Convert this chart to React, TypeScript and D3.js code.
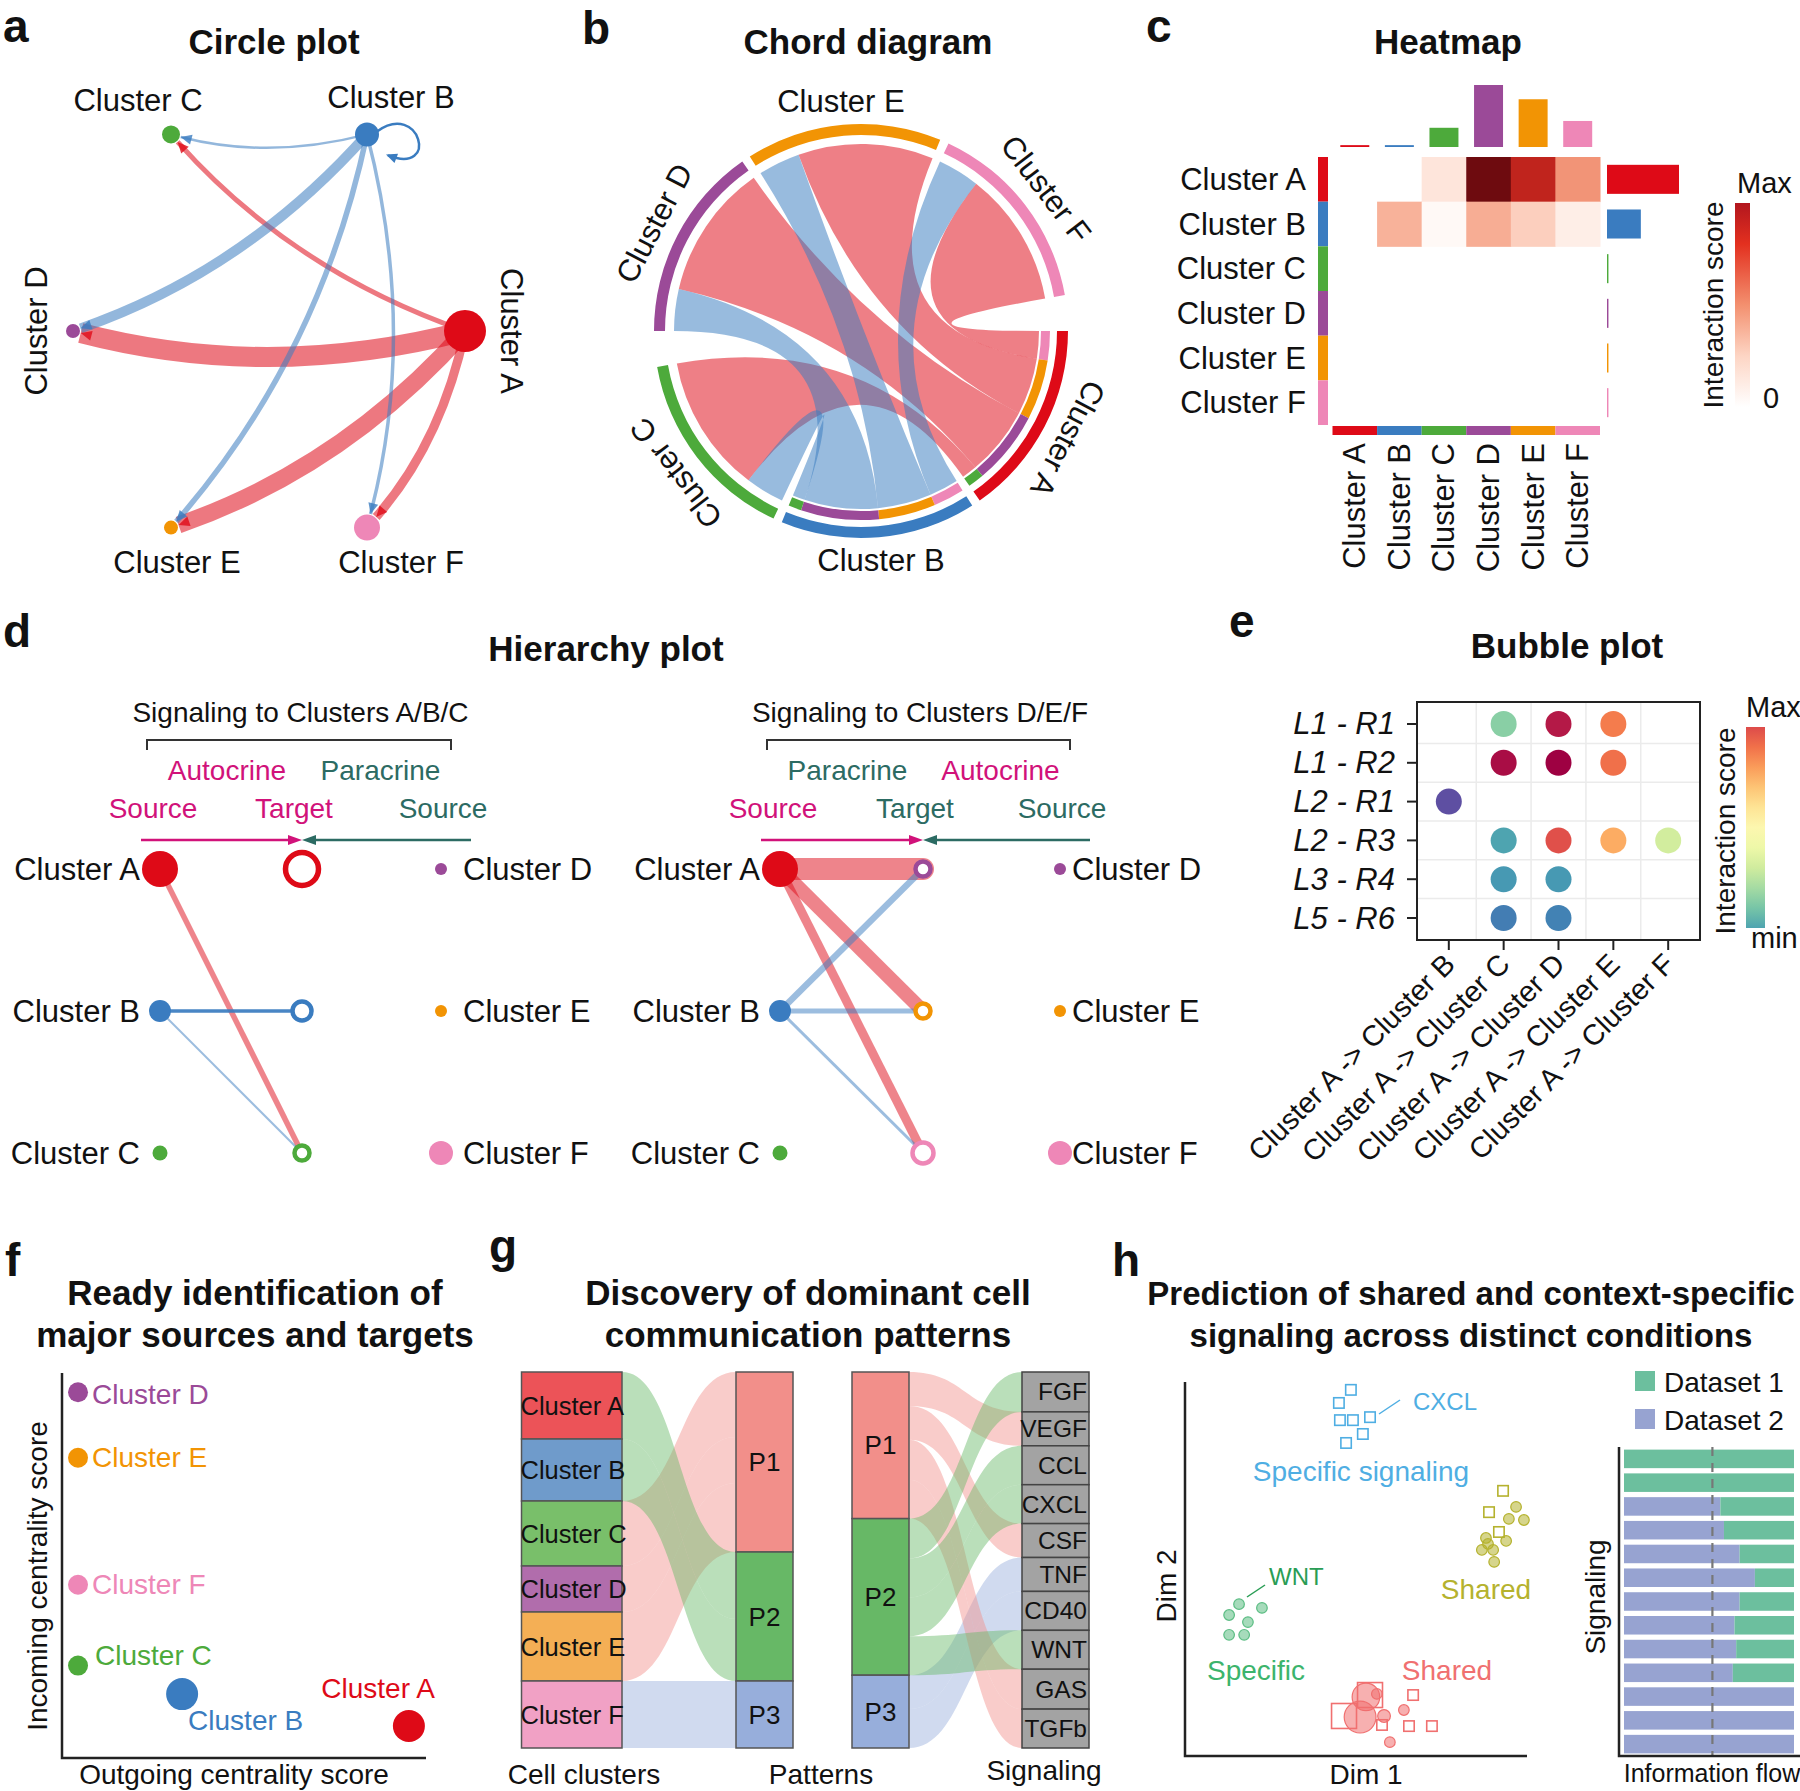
import React from 'react';
import * as d3 from 'd3';

const FONT = "'Liberation Sans', Arial, Helvetica, sans-serif";
const MAGENTA = '#D1127A';
const TEAL = '#2C6B63';

// ---------- shared ----------
const CLUSTERS = ['Cluster A', 'Cluster B', 'Cluster C', 'Cluster D', 'Cluster E', 'Cluster F'];
const CLUSTER_COLORS = ['#DE0A17', '#3A7CC0', '#4DAA3B', '#9B4A98', '#F29404', '#EE87B7'];

// ---------- a: circle plot ----------
const circleNodeSize = [21, 12, 9, 7, 7, 13];
const circleEdges = [
  { source: 0, target: 3, weight: 20 },
  { source: 0, target: 4, weight: 17 },
  { source: 0, target: 5, weight: 9 },
  { source: 0, target: 2, weight: 5 },
  { source: 1, target: 3, weight: 10 },
  { source: 1, target: 4, weight: 5.5 },
  { source: 1, target: 5, weight: 3.5 },
  { source: 1, target: 2, weight: 2.5 },
  { source: 1, target: 1, weight: 2.5 },
];

// ---------- b: chord diagram ----------
const chordOrder = [3, 4, 5, 0, 1, 2];
const chordBigGapAfter = [5, 2];
const chordLinks = [
  { source: 0, target: 5, out: 9, in: 42 },
  { source: 0, target: 4, out: 18.5, in: 42 },
  { source: 0, target: 3, out: 22.5, in: 42 },
  { source: 0, target: 2, out: 5, in: 43 },
  { source: 1, target: 5, out: 9.5, in: 13 },
  { source: 1, target: 4, out: 17.5, in: 13 },
  { source: 1, target: 3, out: 24, in: 13 },
  { source: 1, target: 2, out: 4, in: 12 },
];

// ---------- c: heatmap ----------
const heatValues = [
  [0, 0, 0.12, 1.0, 0.8, 0.46],
  [0, 0.34, 0.03, 0.36, 0.22, 0.08],
  [0, 0, 0, 0, 0, 0],
  [0, 0, 0, 0, 0, 0],
  [0, 0, 0, 0, 0, 0],
  [0, 0, 0, 0, 0, 0],
];
const heatIncoming = [0.03, 0.03, 0.31, 1.0, 0.77, 0.42];
const heatOutgoing = [1.0, 0.47, 0.02, 0.02, 0.02, 0.02];

// ---------- d: hierarchy ----------
const hierNodeSize = [18, 11, 7.5, 6, 6, 12];
const hierEdgesLeft = [
  { source: 0, target: 2, weight: 5.5 },
  { source: 1, target: 1, weight: 3.5 },
  { source: 1, target: 2, weight: 2 },
];
const hierEdgesRight = [
  { source: 0, target: 3, weight: 22 },
  { source: 0, target: 4, weight: 14 },
  { source: 0, target: 5, weight: 9 },
  { source: 1, target: 3, weight: 6.5 },
  { source: 1, target: 4, weight: 5 },
  { source: 1, target: 5, weight: 3 },
];

// ---------- e: bubble plot ----------
const bubbleRows = ['L1 - R1', 'L1 - R2', 'L2 - R1', 'L2 - R3', 'L3 - R4', 'L5 - R6'];
const bubbleCols = ['Cluster A -> Cluster B', 'Cluster A -> Cluster C', 'Cluster A -> Cluster D', 'Cluster A -> Cluster E', 'Cluster A -> Cluster F'];
const bubbleData = [
  { row: 0, col: 1, score: 0.25 }, { row: 0, col: 2, score: 0.96 }, { row: 0, col: 3, score: 0.78 },
  { row: 1, col: 1, score: 0.98 }, { row: 1, col: 2, score: 1.0 }, { row: 1, col: 3, score: 0.8 },
  { row: 2, col: 0, score: 0.0 },
  { row: 3, col: 1, score: 0.15 }, { row: 3, col: 2, score: 0.86 }, { row: 3, col: 3, score: 0.7 }, { row: 3, col: 4, score: 0.37 },
  { row: 4, col: 1, score: 0.13 }, { row: 4, col: 2, score: 0.13 },
  { row: 5, col: 1, score: 0.08 }, { row: 5, col: 2, score: 0.09 },
];

// ---------- f: centrality ----------
const centralityOut = [0.953, 0.33, 0.044, 0.044, 0.044, 0.044];
const centralityIn = [0.083, 0.166, 0.24, 0.95, 0.78, 0.45];
const centralitySize = [16, 16, 10, 10, 10, 10];

// ---------- g: patterns ----------
const clusterWeights = [67, 62, 65, 46, 69, 67];
const clusterPattern = [1, 1, 0, 0, 0, 2];
const PATTERNS = ['P1', 'P2', 'P3'];
const PATTERN_COLORS = ['#F28F8A', '#67B866', '#97AEDB'];
const CLUSTER_LIGHT = ['#EC5358', '#6F9BCB', '#79BF6A', '#B16DAC', '#F4AF55', '#F1A1C5'];
const signalNames = ['FGF', 'VEGF', 'CCL', 'CXCL', 'CSF', 'TNF', 'CD40', 'WNT', 'GAS', 'TGFb'];
const signalWeights = [40, 34, 39, 39, 34, 34, 39, 39, 40, 39];
const signalPattern = [1, 0, 1, 1, 0, 2, 2, 1, 0, 0];

// ---------- h: comparison ----------
const cxclSquares = [[4.85, 9.79], [4.5, 9.44], [4.53, 8.98], [4.91, 8.98], [5.41, 9.06], [5.2, 8.61], [4.71, 8.37]];
const oliveSquares = [[9.3, 7.09], [8.89, 6.52], [9.18, 5.99]];
const oliveCircles = [[9.68, 6.66], [9.47, 6.34], [9.91, 6.31], [8.8, 5.83], [9.39, 5.75], [8.68, 5.51], [9.01, 5.51], [9.04, 5.19], [8.86, 5.67]];
const wntCircles = [[1.58, 4.06], [1.29, 3.77], [2.25, 3.96], [1.84, 3.58], [1.29, 3.24], [1.73, 3.24]];
const redSquares = [[5.41, 1.63, 2.4], [4.65, 1.07, 2.4], [6.67, 1.63, 1], [5.76, 0.83, 1], [6.55, 0.8, 1], [7.22, 0.8, 1]];
const redCircles = [[5.29, 1.58, 2.6], [5.12, 1.04, 3], [5.61, 1.66, 1], [5.82, 1.07, 1.2], [6.4, 1.23, 1], [5.99, 0.37, 1]];
const flowShareDataset2 = [0, 0, 0.567, 0.588, 0.68, 0.77, 0.68, 0.65, 0.66, 0.64, 1, 1, 1];

// ---------- helpers ----------
function arrowHead(tx, ty, ux, uy, len, half) {
  const bx = tx - ux * len, by = ty - uy * len;
  return `M${tx},${ty}L${bx - uy * half},${by + ux * half}L${bx + uy * half},${by - ux * half}Z`;
}

function Title({ x, y, lines, size = 35 }) {
  return (
    <g>
      {lines.map((l, i) => (
        <text key={i} x={x} y={y + i * 42} fontSize={size} fontWeight="bold" textAnchor="middle" fill="#111">{l}</text>
      ))}
    </g>
  );
}

// ---------- panel a ----------
function PanelA() {
  const cx = 269, cy = 331, rx = 196, ry = 227;
  const ang = d3.scaleLinear().domain([0, CLUSTERS.length]).range([0, -2 * Math.PI]);
  const nodes = CLUSTERS.map((name, i) => {
    const a = ang(i);
    return { name, i, a, x: cx + rx * Math.cos(a), y: cy + ry * Math.sin(a), r: circleNodeSize[i] };
  });
  const wScale = d3.scaleLinear().domain([0, 20]).range([0, 20]);
  const ordered = [...circleEdges].sort((a, b) => a.source - b.source);
  const edgeEls = [];
  const arrowEls = [];
  ordered.forEach((e, k) => {
    const s = nodes[e.source], t = nodes[e.target];
    const color = CLUSTER_COLORS[e.source];
    const w = wScale(e.weight);
    if (e.source === e.target) {
      const p = d3.path();
      p.moveTo(s.x + 10, s.y - 3);
      p.bezierCurveTo(s.x + 53, s.y - 34, s.x + 73, s.y + 41, s.x + 21, s.y + 21);
      edgeEls.push(<path key={'l' + k} d={p.toString()} fill="none" stroke={color} strokeWidth={w} />);
      const ux0 = -52, uy0 = -20, L = Math.hypot(ux0, uy0);
      arrowEls.push(<path key={'la' + k} d={arrowHead(s.x + 19, s.y + 20, ux0 / L, uy0 / L, 11, 5)} fill={color} />);
      return;
    }
    const dx = t.x - s.x, dy = t.y - s.y;
    const kc = 0.13;
    const c = { x: (s.x + t.x) / 2 + kc * dy, y: (s.y + t.y) / 2 - kc * dx };
    let ux = t.x - c.x, uy = t.y - c.y;
    const ul = Math.hypot(ux, uy); ux /= ul; uy /= ul;
    const ex = t.x - ux * (t.r + 1), ey = t.y - uy * (t.r + 1);
    const p = d3.path();
    p.moveTo(s.x, s.y);
    p.quadraticCurveTo(c.x, c.y, ex, ey);
    edgeEls.push(<path key={'e' + k} d={p.toString()} fill="none" stroke={color} strokeOpacity={0.55} strokeWidth={w} />);
    arrowEls.push(<path key={'a' + k} d={arrowHead(ex, ey, ux, uy, 11, 5)} fill={color} fillOpacity={0.8} />);
  });
  const labels = nodes.map((n) => {
    const cs = Math.cos(n.a), sn = Math.sin(n.a);
    if (Math.abs(sn) < 0.1) {
      const lx = cs < 0 ? n.x - n.r - 30 : n.x + n.r + 25;
      const rot = cs < 0 ? -90 : 90;
      return <text key={n.name} x={lx} y={n.y} fontSize={31} textAnchor="middle" dominantBaseline="central" transform={`rotate(${rot},${lx},${n.y})`}>{n.name}</text>;
    }
    if (sn < 0) {
      return <text key={n.name} x={n.x - 4.5 + cs * 57} y={n.y - n.r - 14} fontSize={31} textAnchor="middle">{n.name}</text>;
    }
    return <text key={n.name} x={n.x + 20 + cs * 28} y={n.y + 45} fontSize={31} textAnchor="middle">{n.name}</text>;
  });
  return (
    <g>
      <Title x={274} y={54} lines={['Circle plot']} />
      {edgeEls}
      {arrowEls}
      {nodes.map((n) => <circle key={n.name} cx={n.x} cy={n.y} r={n.r} fill={CLUSTER_COLORS[n.i]} />)}
      {labels}
    </g>
  );
}

// ---------- panel b ----------
function PanelB() {
  const cx = 861, cy = 331;
  const rad = (d) => (d * Math.PI) / 180;
  const outV = CLUSTERS.map((_, i) => d3.sum(chordLinks.filter((l) => l.source === i), (l) => l.out));
  const inV = CLUSTERS.map((_, i) => d3.sum(chordLinks.filter((l) => l.target === i), (l) => l.in));
  const size = CLUSTERS.map((_, i) => outV[i] + inV[i]);
  const gapOf = (c) => (chordBigGapAfter.includes(c) ? 10 : 2.5);
  const totalGap = d3.sum(chordOrder, gapOf);
  const k = (360 - totalGap) / d3.sum(chordOrder, (c) => size[c]);
  const sectors = {};
  let a = 270;
  chordOrder.forEach((c) => {
    sectors[c] = { start: a, end: a + size[c] * k };
    a = sectors[c].end + gapOf(c);
  });
  const srcSeg = new Map();
  const tgtSeg = new Map();
  chordOrder.forEach((c) => {
    let p = sectors[c].start;
    chordLinks.filter((l) => l.source === c).sort((x, y) => y.target - x.target).forEach((l) => {
      srcSeg.set(l, [p, p + l.out * k]); p += l.out * k;
    });
    chordLinks.filter((l) => l.target === c).sort((x, y) => y.source - x.source).forEach((l) => {
      tgtSeg.set(l, [p, p + l.in * k]); p += l.in * k;
    });
  });
  const ribbon = d3.ribbon().radius((d) => d.radius);
  const arc = d3.arc();
  const links = [...chordLinks].sort((x, y) => x.source - y.source);
  return (
    <g>
      <Title x={868} y={54} lines={['Chord diagram']} />
      <g transform={`translate(${cx},${cy})`}>
        {links.map((l, i) => {
          const s = srcSeg.get(l), t = tgtSeg.get(l);
          const d = ribbon({
            source: { startAngle: rad(s[0]), endAngle: rad(s[1]), radius: 178 },
            target: { startAngle: rad(t[0]), endAngle: rad(t[1]), radius: 187 },
          });
          return <path key={i} d={d} fill={CLUSTER_COLORS[l.source]} fillOpacity={0.52} />;
        })}
        {chordOrder.map((c) => (
          <path key={'r' + c} d={arc({ innerRadius: 196, outerRadius: 207, startAngle: rad(sectors[c].start), endAngle: rad(sectors[c].end) })} fill={CLUSTER_COLORS[c]} />
        ))}
        {chordLinks.map((l, i) => {
          const s = srcSeg.get(l);
          return <path key={'s' + i} d={arc({ innerRadius: 180, outerRadius: 189, startAngle: rad(s[0]), endAngle: rad(s[1]) })} fill={CLUSTER_COLORS[l.target]} />;
        })}
        {chordOrder.map((c) => {
          let mid = (sectors[c].start + sectors[c].end) / 2;
          mid = ((mid % 360) + 360) % 360;
          const horiz = Math.abs(Math.sin(rad(mid))) < 0.42;
          const rr = horiz ? 230 : 233;
          const x = rr * Math.sin(rad(mid)), y = -rr * Math.cos(rad(mid));
          const rot = horiz ? 0 : mid;
          return (
            <text key={'t' + c} x={x} y={y} fontSize={31} textAnchor="middle" dominantBaseline="central" transform={`rotate(${rot},${x},${y})`}>{CLUSTERS[c]}</text>
          );
        })}
      </g>
    </g>
  );
}

// ---------- panel c ----------
function PanelC() {
  const x = d3.scaleBand().domain(d3.range(6)).range([1332.5, 1600]);
  const y = d3.scaleBand().domain(d3.range(6)).range([157, 425]);
  const topH = d3.scaleLinear().domain([0, 1]).range([0, 62]);
  const rightW = d3.scaleLinear().domain([0, 1]).range([0, 72]);
  const color = d3.scaleLinear().domain([0, 0.25, 0.5, 0.75, 1]).range(['#FFFFFF', '#FCC9B5', '#F08A6B', '#D42A20', '#6E0B0F']);
  const bw = x.bandwidth();
  return (
    <g>
      <defs>
        <linearGradient id="heatLegend" x1="0" y1="1" x2="0" y2="0">
          <stop offset="0" stopColor="#FFFFFF" />
          <stop offset="0.25" stopColor="#FDD5C4" />
          <stop offset="0.5" stopColor="#F3906F" />
          <stop offset="0.8" stopColor="#E3301F" />
          <stop offset="1" stopColor="#B2161E" />
        </linearGradient>
      </defs>
      <Title x={1448} y={54} lines={['Heatmap']} />
      {heatValues.map((row, i) => row.map((v, j) => (v > 0 ? (
        <rect key={`${i}-${j}`} x={x(j)} y={y(i)} width={bw + 0.5} height={y.bandwidth() + 0.5} fill={color(v)} />
      ) : null)))}
      {CLUSTERS.map((c, i) => (
        <g key={c}>
          <rect x={1318} y={y(i)} width={10} height={y.bandwidth()} fill={CLUSTER_COLORS[i]} />
          <rect x={x(i)} y={426} width={bw} height={9} fill={CLUSTER_COLORS[i]} />
          <rect x={x(i) + bw * 0.175} y={147 - topH(heatIncoming[i])} width={bw * 0.65} height={topH(heatIncoming[i])} fill={CLUSTER_COLORS[i]} />
          <rect x={1607} y={y(i) + y.bandwidth() * 0.175} width={rightW(heatOutgoing[i])} height={y.bandwidth() * 0.65} fill={CLUSTER_COLORS[i]} />
          <text x={1306} y={y(i) + y.bandwidth() / 2} fontSize={31} textAnchor="end" dominantBaseline="central">{c}</text>
          <text x={x(i) + bw / 2} y={443} fontSize={31} textAnchor="end" dominantBaseline="central" transform={`rotate(-90,${x(i) + bw / 2},443)`}>{c}</text>
        </g>
      ))}
      <rect x={1735} y={203} width={15} height={204} fill="url(#heatLegend)" />
      <text x={1737} y={193} fontSize={29}>Max</text>
      <text x={1763} y={408} fontSize={29}>0</text>
      <text x={1713} y={305} fontSize={28} textAnchor="middle" dominantBaseline="central" transform="rotate(-90,1713,305)">Interaction score</text>
    </g>
  );
}

// ---------- panel d ----------
function Hierarchy({ srcX, tgtX, rightX, targets, edges, leftWord, rightWord, targetIsMagenta, header, rightGap }) {
  const rows = d3.scalePoint().domain([0, 1, 2]).range([869, 1153]);
  const sources = [0, 1, 2];
  const rightSources = [3, 4, 5];
  const wScale = d3.scaleLinear().domain([0, 22]).range([0, 22]);
  const tRow = (t) => targets.indexOf(t);
  const ay = 840;
  const ringR = (i) => Math.max(hierNodeSize[i] - 1.5, 7.5);
  const ringW = (i) => (hierNodeSize[i] > 15 ? 5.5 : 4.5);
  return (
    <g>
      <text x={(srcX + rightX) / 2} y={722} fontSize={28} textAnchor="middle">{header}</text>
      <path d={`M${srcX - 13},750V740H${rightX + 10}V750`} fill="none" stroke="#333" strokeWidth={2} />
      <text x={(srcX + tgtX) / 2 - 4} y={780} fontSize={28} textAnchor="middle" fill={leftWord === 'Autocrine' ? MAGENTA : TEAL}>{leftWord}</text>
      <text x={(tgtX + rightX) / 2 + 9} y={780} fontSize={28} textAnchor="middle" fill={rightWord === 'Autocrine' ? MAGENTA : TEAL}>{rightWord}</text>
      <text x={srcX - 7} y={818} fontSize={28} textAnchor="middle" fill={MAGENTA}>Source</text>
      <text x={tgtX - 8} y={818} fontSize={28} textAnchor="middle" fill={targetIsMagenta ? MAGENTA : TEAL}>Target</text>
      <text x={rightX + 2} y={818} fontSize={28} textAnchor="middle" fill={TEAL}>Source</text>
      <line x1={srcX - 19} y1={ay} x2={tgtX - 10} y2={ay} stroke={MAGENTA} strokeWidth={2.5} />
      <path d={arrowHead(tgtX, ay, 1, 0, 14, 5)} fill={MAGENTA} />
      <line x1={rightX + 30} y1={ay} x2={tgtX + 10} y2={ay} stroke={TEAL} strokeWidth={2.5} />
      <path d={arrowHead(tgtX, ay, -1, 0, 14, 5)} fill={TEAL} />
      {[...edges].sort((a, b) => a.source - b.source).map((e, i) => (
        <line key={i} x1={srcX} y1={rows(sources.indexOf(e.source))} x2={tgtX} y2={rows(tRow(e.target))}
          stroke={CLUSTER_COLORS[e.source]} strokeOpacity={e.source === e.target ? 0.92 : 0.5}
          strokeWidth={wScale(e.weight)} strokeLinecap={e.weight > 15 ? 'round' : 'butt'} />
      ))}
      {sources.map((c, i) => (
        <g key={'s' + c}>
          <circle cx={srcX} cy={rows(i)} r={hierNodeSize[c]} fill={CLUSTER_COLORS[c]} />
          <text x={srcX - 20} y={rows(i)} fontSize={31} textAnchor="end" dominantBaseline="central">{CLUSTERS[c]}</text>
        </g>
      ))}
      {targets.map((c, i) => (
        <circle key={'t' + c} cx={tgtX} cy={rows(i)} r={ringR(c)} fill="#fff" stroke={CLUSTER_COLORS[c]} strokeWidth={ringW(c)} />
      ))}
      {rightSources.map((c, i) => (
        <g key={'r' + c}>
          <circle cx={rightX} cy={rows(i)} r={hierNodeSize[c]} fill={CLUSTER_COLORS[c]} />
          <text x={rightX + rightGap} y={rows(i)} fontSize={31} dominantBaseline="central">{CLUSTERS[c]}</text>
        </g>
      ))}
    </g>
  );
}

function PanelD() {
  return (
    <g>
      <Title x={606} y={661} lines={['Hierarchy plot']} />
      <Hierarchy srcX={160} tgtX={302} rightX={441} targets={[0, 1, 2]} edges={hierEdgesLeft}
        leftWord="Autocrine" rightWord="Paracrine" targetIsMagenta header="Signaling to Clusters A/B/C" rightGap={22} />
      <Hierarchy srcX={780} tgtX={923} rightX={1060} targets={[3, 4, 5]} edges={hierEdgesRight}
        leftWord="Paracrine" rightWord="Autocrine" targetIsMagenta={false} header="Signaling to Clusters D/E/F" rightGap={12} />
    </g>
  );
}

// ---------- panel e ----------
function PanelE() {
  const x = d3.scalePoint().domain(d3.range(bubbleCols.length)).range([1417, 1700]).padding(0.58);
  const y = d3.scalePoint().domain(d3.range(bubbleRows.length)).range([702, 940]).padding(0.567);
  const color = (v) => d3.interpolateSpectral(1 - v);
  const stops = d3.range(0, 1.0001, 0.1).map((t) => ({ t, c: color(0.15 + t * 0.72) }));
  return (
    <g>
      <defs>
        <linearGradient id="bubbleLegend" x1="0" y1="1" x2="0" y2="0">
          {stops.map((s, i) => <stop key={i} offset={s.t} stopColor={s.c} />)}
        </linearGradient>
      </defs>
      <Title x={1567} y={658} lines={['Bubble plot']} />
      {d3.range(bubbleCols.length - 1).map((i) => {
        const gx = (x(i) + x(i + 1)) / 2;
        return <line key={'gx' + i} x1={gx} x2={gx} y1={702} y2={940} stroke="#EBEBEB" strokeWidth={1.5} />;
      })}
      {d3.range(bubbleRows.length - 1).map((i) => {
        const gy = (y(i) + y(i + 1)) / 2;
        return <line key={'gy' + i} x1={1417} x2={1700} y1={gy} y2={gy} stroke="#EBEBEB" strokeWidth={1.5} />;
      })}
      {bubbleData.map((d, i) => <circle key={i} cx={x(d.col)} cy={y(d.row)} r={13} fill={color(d.score)} />)}
      <rect x={1417} y={702} width={283} height={238} fill="none" stroke="#222" strokeWidth={2} />
      {bubbleRows.map((r, i) => (
        <g key={r}>
          <line x1={1407} x2={1417} y1={y(i)} y2={y(i)} stroke="#222" strokeWidth={2} />
          <text x={1395} y={y(i)} fontSize={31} fontStyle="italic" textAnchor="end" dominantBaseline="central">{r}</text>
        </g>
      ))}
      {bubbleCols.map((c, i) => (
        <g key={c}>
          <line x1={x(i)} x2={x(i)} y1={940} y2={950} stroke="#222" strokeWidth={2} />
          <text x={x(i) + 8} y={966} fontSize={29} textAnchor="end" transform={`rotate(-45,${x(i) + 8},966)`}>{c}</text>
        </g>
      ))}
      <rect x={1746} y={727} width={19} height={201} fill="url(#bubbleLegend)" />
      <text x={1746} y={717} fontSize={29}>Max</text>
      <text x={1751} y={948} fontSize={29}>min</text>
      <text x={1725} y={831} fontSize={28} textAnchor="middle" dominantBaseline="central" transform="rotate(-90,1725,831)">Interaction score</text>
    </g>
  );
}

// ---------- panel f ----------
const centralityLabelPlacement = [
  { dx: 26, dy: -38, anchor: 'end' },
  { dx: 6, dy: 26, anchor: 'start' },
  { dx: 17, dy: -10, anchor: 'start' },
  { dx: 14, dy: 2, anchor: 'start' },
  { dx: 14, dy: 0, anchor: 'start' },
  { dx: 14, dy: 0, anchor: 'start' },
];
function PanelF() {
  const x = d3.scaleLinear().domain([0, 1]).range([62, 426]);
  const y = d3.scaleLinear().domain([0, 1]).range([1758, 1373]);
  return (
    <g>
      <Title x={255} y={1305} lines={['Ready identification of', 'major sources and targets']} />
      <path d={`M${x(0)},${y(1)}V${y(0)}H${x(1)}`} fill="none" stroke="#222" strokeWidth={2.5} />
      {CLUSTERS.map((c, i) => {
        const px = x(centralityOut[i]), py = y(centralityIn[i]);
        const lp = centralityLabelPlacement[i];
        return (
          <g key={c}>
            <circle cx={px} cy={py} r={centralitySize[i]} fill={CLUSTER_COLORS[i]} />
            <text x={px + lp.dx} y={py + lp.dy} fontSize={28} fill={CLUSTER_COLORS[i]} textAnchor={lp.anchor} dominantBaseline="central">{c}</text>
          </g>
        );
      })}
      <text x={234} y={1784} fontSize={28} textAnchor="middle">Outgoing centrality score</text>
      <text x={37} y={1576} fontSize={28} textAnchor="middle" dominantBaseline="central" transform="rotate(-90,37,1576)">Incoming centrality score</text>
    </g>
  );
}

// ---------- panel g ----------
function bandPath(x0, a0, a1, x1, b0, b1) {
  const xm = (x0 + x1) / 2;
  return `M${x0},${a0}C${xm},${a0} ${xm},${b0} ${x1},${b0}L${x1},${b1}C${xm},${b1} ${xm},${a1} ${x0},${a1}Z`;
}
function PanelG() {
  const top = 1372, bottom = 1748;
  const yL = d3.scaleLinear().domain([0, d3.sum(clusterWeights)]).range([top, bottom]);
  const cStart = [];
  let acc = 0;
  clusterWeights.forEach((w) => { cStart.push(acc); acc += w; });
  const pTotL = PATTERNS.map((_, p) => d3.sum(clusterWeights.filter((_, i) => clusterPattern[i] === p)));
  const pStartL = [];
  acc = 0;
  pTotL.forEach((w) => { pStartL.push(acc); acc += w; });
  const pCurL = [...pStartL];
  const leftFlows = clusterWeights.map((w, i) => {
    const p = clusterPattern[i];
    const b0 = pCurL[p]; pCurL[p] += w;
    return { p, a0: cStart[i], a1: cStart[i] + w, b0, b1: b0 + w };
  });
  const yR = d3.scaleLinear().domain([0, d3.sum(signalWeights)]).range([top, bottom]);
  const sStart = [];
  acc = 0;
  signalWeights.forEach((w) => { sStart.push(acc); acc += w; });
  const pTotR = PATTERNS.map((_, p) => d3.sum(signalWeights.filter((_, i) => signalPattern[i] === p)));
  const pStartR = [];
  acc = 0;
  pTotR.forEach((w) => { pStartR.push(acc); acc += w; });
  const pCurR = [...pStartR];
  const rightFlows = signalWeights.map((w, i) => {
    const p = signalPattern[i];
    const a0 = pCurR[p]; pCurR[p] += w;
    return { p, a0, a1: a0 + w, b0: sStart[i], b1: sStart[i] + w };
  });
  const cx0 = 521.5, cx1 = 622, p1x0 = 736, p1x1 = 793, p2x0 = 852, p2x1 = 909, sx0 = 1022, sx1 = 1089;
  return (
    <g>
      <Title x={808} y={1305} lines={['Discovery of dominant cell', 'communication patterns']} />
      {[2, 0, 1].map((p) => leftFlows.filter((f) => f.p === p).map((f, i) => (
        <path key={`lf${p}-${i}`} d={bandPath(cx1, yL(f.a0), yL(f.a1), p1x0, yL(f.b0), yL(f.b1))} fill={PATTERN_COLORS[p]} fillOpacity={0.45} />
      )))}
      {[2, 0, 1].map((p) => rightFlows.filter((f) => f.p === p).map((f, i) => (
        <path key={`rf${p}-${i}`} d={bandPath(p2x1, yR(f.a0), yR(f.a1), sx0, yR(f.b0), yR(f.b1))} fill={PATTERN_COLORS[p]} fillOpacity={0.45} />
      )))}
      {CLUSTERS.map((c, i) => (
        <g key={c}>
          <rect x={cx0} y={yL(cStart[i])} width={cx1 - cx0} height={yL(cStart[i] + clusterWeights[i]) - yL(cStart[i])} fill={CLUSTER_LIGHT[i]} stroke="#555" strokeWidth={1.5} />
          <text x={cx0 - 1} y={(yL(cStart[i]) + yL(cStart[i] + clusterWeights[i])) / 2} fontSize={25.5} dominantBaseline="central">{c}</text>
        </g>
      ))}
      {PATTERNS.map((p, i) => (
        <g key={p}>
          <rect x={p1x0} y={yL(pStartL[i])} width={p1x1 - p1x0} height={yL(pStartL[i] + pTotL[i]) - yL(pStartL[i])} fill={PATTERN_COLORS[i]} stroke="#555" strokeWidth={1.5} />
          <text x={(p1x0 + p1x1) / 2} y={(yL(pStartL[i]) + yL(pStartL[i] + pTotL[i])) / 2} fontSize={26} textAnchor="middle" dominantBaseline="central">{p}</text>
          <rect x={p2x0} y={yR(pStartR[i])} width={p2x1 - p2x0} height={yR(pStartR[i] + pTotR[i]) - yR(pStartR[i])} fill={PATTERN_COLORS[i]} stroke="#555" strokeWidth={1.5} />
          <text x={(p2x0 + p2x1) / 2} y={(yR(pStartR[i]) + yR(pStartR[i] + pTotR[i])) / 2} fontSize={26} textAnchor="middle" dominantBaseline="central">{p}</text>
        </g>
      ))}
      {signalNames.map((s, i) => (
        <g key={s}>
          <rect x={sx0} y={yR(sStart[i])} width={sx1 - sx0} height={yR(sStart[i] + signalWeights[i]) - yR(sStart[i])} fill="#A3A3A3" stroke="#444" strokeWidth={1.5} />
          <text x={sx1 - 2} y={(yR(sStart[i]) + yR(sStart[i] + signalWeights[i])) / 2} fontSize={24.5} textAnchor="end" dominantBaseline="central">{s}</text>
        </g>
      ))}
      <text x={584} y={1784} fontSize={28} textAnchor="middle">Cell clusters</text>
      <text x={821} y={1784} fontSize={28} textAnchor="middle">Patterns</text>
      <text x={1044} y={1780} fontSize={28} textAnchor="middle">Signaling</text>
    </g>
  );
}

// ---------- panel h ----------
function PanelH() {
  const x = d3.scaleLinear().domain([0, 10]).range([1185, 1527]);
  const y = d3.scaleLinear().domain([0, 10]).range([1756, 1382]);
  const BLUE = '#4FAEE3', OLIVE = '#B5B22E', GREEN = '#5CBD84', RED = '#F07070';
  const sq = (p, col, k, s = 1) => {
    const h = 5.2 * s;
    return <rect key={k} x={x(p[0]) - h} y={y(p[1]) - h} width={2 * h} height={2 * h} fill="none" stroke={col} strokeWidth={1.6} />;
  };
  const ci = (p, col, k, s = 1) => <circle key={k} cx={x(p[0])} cy={y(p[1])} r={5.3 * s} fill={col} fillOpacity={0.55} stroke={col} strokeWidth={1.2} />;
  const bx = d3.scaleLinear().domain([0, 1]).range([1624, 1794]);
  const by = d3.scaleBand().domain(d3.range(flowShareDataset2.length)).range([1447, 1756]).paddingInner(0.22).paddingOuter(0.11);
  const D1 = '#6CBF9E', D2 = '#97A3D1';
  return (
    <g>
      <Title x={1471} y={1305} lines={['Prediction of shared and context-specific', 'signaling across distinct conditions']} size={33} />
      <path d={`M${x(0)},${y(10)}V${y(0)}H${x(10)}`} fill="none" stroke="#222" strokeWidth={2.5} />
      {cxclSquares.map((p, i) => sq(p, BLUE, 'b' + i))}
      <line x1={1379} y1={1414} x2={1400} y2={1400} stroke={BLUE} strokeWidth={1.5} />
      <text x={1413} y={1410} fontSize={24} fill={BLUE}>CXCL</text>
      <text x={1361} y={1481} fontSize={28} fill={BLUE} textAnchor="middle">Specific signaling</text>
      {oliveSquares.map((p, i) => sq(p, OLIVE, 'os' + i))}
      {oliveCircles.map((p, i) => ci(p, OLIVE, 'oc' + i))}
      <text x={1486} y={1599} fontSize={28} fill={OLIVE} textAnchor="middle">Shared</text>
      {wntCircles.map((p, i) => ci(p, GREEN, 'g' + i))}
      <line x1={1247} y1={1597} x2={1265} y2={1585} stroke="#2A9D55" strokeWidth={1.5} />
      <text x={1269} y={1585} fontSize={24} fill="#2A9D55">WNT</text>
      <text x={1256} y={1680} fontSize={28} fill="#3CB46C" textAnchor="middle">Specific</text>
      {redSquares.map((p, i) => sq(p, RED, 'rs' + i, p[2]))}
      {redCircles.map((p, i) => ci(p, RED, 'rc' + i, p[2]))}
      <text x={1447} y={1680} fontSize={28} fill={RED} textAnchor="middle">Shared</text>
      <text x={1366} y={1784} fontSize={28} textAnchor="middle">Dim 1</text>
      <text x={1166} y={1586} fontSize={28} textAnchor="middle" dominantBaseline="central" transform="rotate(-90,1166,1586)">Dim 2</text>

      <rect x={1635} y={1371} width={20} height={20} fill={D1} />
      <text x={1664} y={1392} fontSize={28}>Dataset 1</text>
      <rect x={1635} y={1409} width={20} height={20} fill={D2} />
      <text x={1664} y={1430} fontSize={28}>Dataset 2</text>
      {flowShareDataset2.map((v, i) => (
        <g key={'fb' + i}>
          <rect x={bx(0)} y={by(i)} width={bx(v) - bx(0)} height={by.bandwidth()} fill={D2} />
          <rect x={bx(v)} y={by(i)} width={bx(1) - bx(v)} height={by.bandwidth()} fill={D1} />
        </g>
      ))}
      <line x1={bx(0.52)} x2={bx(0.52)} y1={1447} y2={1756} stroke="#777" strokeWidth={2.2} strokeDasharray="9,7" />
      <path d={`M1619,1447V1756H1800`} fill="none" stroke="#222" strokeWidth={2.5} />
      <text x={1712} y={1782} fontSize={25} textAnchor="middle">Information flow</text>
      <text x={1595} y={1597} fontSize={28} textAnchor="middle" dominantBaseline="central" transform="rotate(-90,1595,1597)">Signaling</text>
    </g>
  );
}

const panelLetters = [
  { t: 'a', x: 3, y: 42 }, { t: 'b', x: 582, y: 44 }, { t: 'c', x: 1146, y: 42 },
  { t: 'd', x: 3, y: 647 }, { t: 'e', x: 1229, y: 637 },
  { t: 'f', x: 5, y: 1276 }, { t: 'g', x: 489, y: 1262 }, { t: 'h', x: 1112, y: 1276 },
];

export default function App() {
  return (
    <svg width={1800} height={1791} viewBox="0 0 1800 1791" style={{ position: 'absolute', left: 0, top: 0 }} fontFamily={FONT} fill="#111">
      <rect width={1800} height={1791} fill="#fff" />
      {panelLetters.map((p) => (
        <text key={p.t} x={p.x} y={p.y} fontSize={46} fontWeight="bold" fill="#111">{p.t}</text>
      ))}
      <PanelA />
      <PanelB />
      <PanelC />
      <PanelD />
      <PanelE />
      <PanelF />
      <PanelG />
      <PanelH />
    </svg>
  );
}
